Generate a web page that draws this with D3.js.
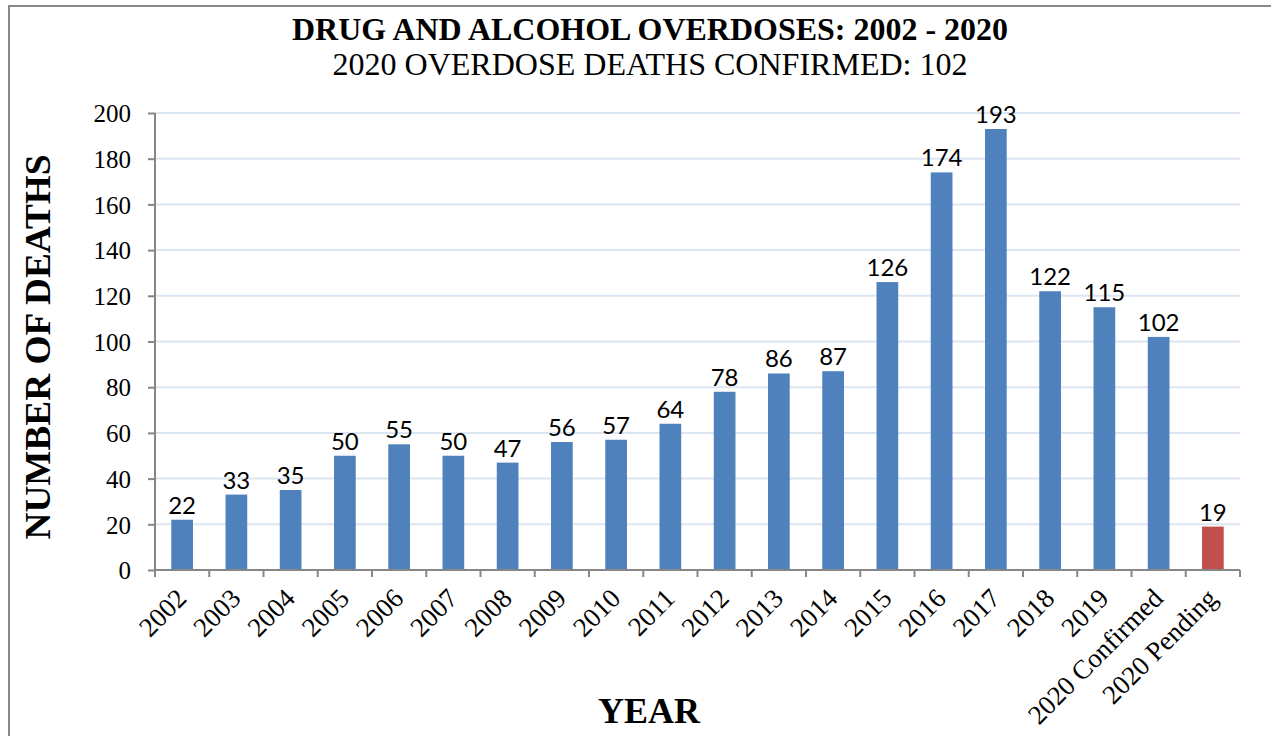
<!DOCTYPE html>
<html><head><meta charset="utf-8">
<script src="https://cdn.jsdelivr.net/npm/d3@7"></script>
<style>body{margin:0;background:#fff}svg{display:block}</style>
</head><body>
<svg id="c" width="1271" height="736"></svg>
<script>
const categories = ["2002","2003","2004","2005","2006","2007","2008","2009","2010","2011","2012","2013","2014","2015","2016","2017","2018","2019","2020 Confirmed","2020 Pending"];
const deaths = [22,33,35,50,55,50,47,56,57,64,78,86,87,126,174,193,122,115,102,19];
const barColors = ["#4F81BD","#4F81BD","#4F81BD","#4F81BD","#4F81BD","#4F81BD","#4F81BD","#4F81BD","#4F81BD","#4F81BD","#4F81BD","#4F81BD","#4F81BD","#4F81BD","#4F81BD","#4F81BD","#4F81BD","#4F81BD","#4F81BD","#C0504D"];
const yTicks = [0,20,40,60,80,100,120,140,160,180,200];
const title = "DRUG AND ALCOHOL OVERDOSES: 2002 - 2020";
const subtitle = "2020 OVERDOSE DEATHS CONFIRMED: 102";

const SERIF = "'Liberation Serif', 'Times New Roman', serif";
const svg = d3.select("#c");
const L = 155, R = 1240, T = 113, B = 570;
const x = d3.scaleBand().domain(categories).range([L, R]).paddingInner(0.6).paddingOuter(0.3);
const xb = d3.scaleBand().domain(categories).range([L, R]);
const y = d3.scaleLinear().domain([0, 200]).range([B, T]);

// outer border
svg.append("rect").attr("x", 9).attr("y", 6).attr("width", 1300).attr("height", 800)
  .attr("fill", "none").attr("stroke", "#888").attr("stroke-width", 2);

// titles
svg.append("text").attr("x", 650).attr("y", 40).attr("text-anchor", "middle")
  .style("font-family", SERIF).style("font-weight", "bold").style("font-size", "31px")
  .attr("textLength", 716).attr("lengthAdjust", "spacingAndGlyphs").text(title);
svg.append("text").attr("x", 650).attr("y", 75).attr("text-anchor", "middle")
  .style("font-family", SERIF).style("font-size", "31px")
  .attr("textLength", 635).attr("lengthAdjust", "spacingAndGlyphs").text(subtitle);

// gridlines
svg.append("g").selectAll("line").data(yTicks.filter(d => d > 0)).join("line")
  .attr("x1", L).attr("x2", R).attr("y1", d => y(d)).attr("y2", d => y(d))
  .attr("stroke", "#DCE6F2").attr("stroke-width", 2);

// bars
svg.append("g").selectAll("rect").data(deaths).join("rect")
  .attr("x", (d, i) => x(categories[i])).attr("width", x.bandwidth())
  .attr("y", d => y(d)).attr("height", d => B - y(d))
  .attr("fill", (d, i) => barColors[i]);

// data labels
svg.append("g").selectAll("text").data(deaths).join("text")
  .attr("x", (d, i) => x(categories[i]) + x.bandwidth() / 2)
  .attr("y", d => y(d) - 6).attr("text-anchor", "middle")
  .style("font-family", "Lato, 'Open Sans', sans-serif").style("font-size", "24px").attr("fill", "#000")
  .text(d => d);

// y axis
const yAxis = svg.append("g").attr("transform", `translate(${L},0)`)
  .call(d3.axisLeft(y).tickValues(yTicks).tickSize(7).tickPadding(17));
yAxis.selectAll("path,line").attr("stroke", "#868686").attr("stroke-width", 2);
yAxis.select("path").attr("d", `M0,${T}V${B}`);
yAxis.selectAll("text").style("font-family", SERIF).style("font-size", "25px").attr("fill", "#000").attr("dy", "0.35em");

// x axis
const xg = svg.append("g");
xg.append("line").attr("x1", L).attr("x2", R).attr("y1", B).attr("y2", B)
  .attr("stroke", "#868686").attr("stroke-width", 2);
const bounds = categories.map(c => xb(c)).concat([R]);
xg.selectAll("line.t").data(bounds).join("line").attr("class", "t")
  .attr("x1", d => d).attr("x2", d => d).attr("y1", B).attr("y2", B + 7)
  .attr("stroke", "#868686").attr("stroke-width", 2);
xg.selectAll("text").data(categories).join("text")
  .attr("transform", d => `translate(${xb(d) + xb.bandwidth() / 2 + 6},${B + 30}) rotate(-45)`)
  .attr("text-anchor", "end").style("font-family", SERIF).style("font-size", "27px")
  .attr("fill", "#000").text(d => d);

// axis titles
svg.append("text").attr("x", 649).attr("y", 723).attr("text-anchor", "middle")
  .style("font-family", SERIF).style("font-weight", "bold").style("font-size", "36px").text("YEAR");
svg.append("text").attr("transform", "translate(50,347) rotate(-90)").attr("text-anchor", "middle")
  .style("font-family", SERIF).style("font-weight", "bold").style("font-size", "35px")
  .attr("textLength", 385).attr("lengthAdjust", "spacingAndGlyphs").text("NUMBER OF DEATHS");
</script>
</body></html>
